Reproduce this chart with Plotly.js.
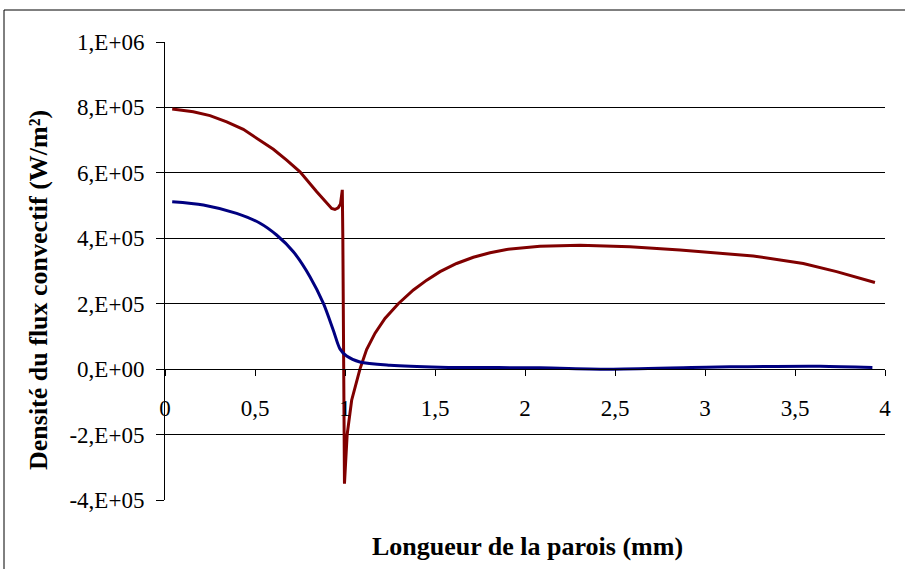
<!DOCTYPE html>
<html>
<head>
<meta charset="utf-8">
<script src="https://cdn.plot.ly/plotly-3.0.1.min.js"></script>
<style>html,body{margin:0;padding:0;background:#fff}#chart{width:905px;height:569px}</style>
</head>
<body>
<div id="chart"></div>
<script>
// Red series (upper curve)
const redX = [0.04, 0.102, 0.157, 0.25, 0.343, 0.435, 0.528, 0.602, 0.676, 0.75, 0.843, 0.898, 0.926, 0.944, 0.962, 0.975, 0.985, 0.988, 0.990, 0.992, 0.994, 0.997, 1.003, 1.012, 1.037, 1.06, 1.083, 1.12, 1.167, 1.222, 1.296, 1.38, 1.454, 1.528, 1.62, 1.713, 1.806, 1.898, 1.991, 2.083, 2.306, 2.583, 2.861, 3.083, 3.268, 3.546, 3.731, 3.944];
const redY = [7.95e5, 7.92e5, 7.87e5, 7.75e5, 7.56e5, 7.33e5, 7.0e5, 6.72e5, 6.39e5, 6.03e5, 5.42e5, 5.07e5, 4.91e5, 4.88e5, 4.93e5, 5.05e5, 5.48e5, 4.0e5, 1.0e5, -2.0e5, -3.3e5, -3.5e5, -2.9e5, -2.0e5, -0.95e5, -0.45e5, 0, 0.6e5, 1.1e5, 1.55e5, 2.0e5, 2.42e5, 2.72e5, 2.98e5, 3.23e5, 3.42e5, 3.56e5, 3.66e5, 3.72e5, 3.76e5, 3.79e5, 3.74e5, 3.64e5, 3.54e5, 3.46e5, 3.23e5, 2.98e5, 2.65e5];
// Blue series (lower curve)
const blueX = [0.04, 0.213, 0.398, 0.528, 0.62, 0.713, 0.806, 0.88, 0.935, 0.972, 1.009, 1.083, 1.25, 1.528, 2.083, 2.49, 3.14, 3.64, 3.93];
const blueY = [5.12e5, 5.02e5, 4.76e5, 4.46e5, 4.10e5, 3.59e5, 2.82e5, 2.01e5, 1.19e5, 0.62e5, 0.40e5, 0.22e5, 1.2e4, 0.6e4, 0.4e4, 0, 0.7e4, 0.9e4, 0.5e4];
// Tick labels
const xTickVals = [0, 0.5, 1, 1.5, 2, 2.5, 3, 3.5, 4];
const xTickText = ["0", "0,5", "1", "1,5", "2", "2,5", "3", "3,5", "4"];
const yTickVals = [-4e5, -2e5, 0, 2e5, 4e5, 6e5, 8e5, 1e6];
const yTickText = ["-4,E+05", "-2,E+05", "0,E+00", "2,E+05", "4,E+05", "6,E+05", "8,E+05", "1,E+06"];
const xTitle = "Longueur de la parois (mm)";
const yTitle = "Densité du flux convectif (W/m²)";

const font = "Liberation Serif";
const traces = [
  {x: redX, y: redY, type: "scatter", mode: "lines", line: {color: "#800000", width: 3, shape: "linear"}, showlegend: false, hoverinfo: "skip"},
  {x: blueX, y: blueY, type: "scatter", mode: "lines", line: {color: "#000080", width: 3, shape: "spline", smoothing: 0.8}, showlegend: false, hoverinfo: "skip"}
];
const zeroPos = (0 - (-4e5)) / (1e6 - (-4e5));
const layout = {
  width: 905, height: 569,
  margin: {l: 165, r: 20, t: 42, b: 69},
  paper_bgcolor: "#fff", plot_bgcolor: "#fff",
  font: {family: font, size: 23, color: "#000"},
  xaxis: {
    range: [0, 4], tickvals: xTickVals, ticktext: xTickText,
    anchor: "free", position: zeroPos,
    showline: true, linecolor: "#000", linewidth: 1,
    ticks: "outside", ticklen: 6, tickcolor: "#000",
    showgrid: false, zeroline: false,
    ticklabelstandoff: 12,
    tickfont: {family: font, size: 23, color: "#000"}
  },
  yaxis: {
    range: [-4e5, 1e6], tickvals: yTickVals, ticktext: yTickText,
    showline: true, linecolor: "#000", linewidth: 1,
    ticks: "outside", ticklen: 8, tickcolor: "#000",
    showgrid: true, gridcolor: "#000", gridwidth: 1, zeroline: false,
    ticklabelstandoff: 7,
    tickfont: {family: font, size: 23, color: "#000"}
  },
  annotations: [
    {text: "<b>" + xTitle + "</b>", xref: "paper", yref: "paper", x: (527 - 165) / 720, y: (500 - 546) / 458, xanchor: "center", yanchor: "middle", showarrow: false, font: {family: font, size: 26, color: "#000"}},
    {text: "<b>" + yTitle + "</b>", xref: "paper", yref: "paper", x: (38 - 165) / 720, y: (500 - 290) / 458, xanchor: "center", yanchor: "middle", textangle: -90, showarrow: false, font: {family: font, size: 26, color: "#000"}}
  ],
  shapes: [
    {type: "line", xref: "paper", yref: "paper", x0: (4 - 165) / 720, x1: (4 - 165) / 720, y0: (500 - 10) / 458, y1: (500 - 575) / 458, line: {color: "#000", width: 1}},
    {type: "line", xref: "paper", yref: "paper", x0: (4 - 165) / 720, x1: (910 - 165) / 720, y0: (500 - 10) / 458, y1: (500 - 10) / 458, line: {color: "#000", width: 1}}
  ]
};
Plotly.newPlot("chart", traces, layout, {displayModeBar: false, staticPlot: true});
</script>
</body>
</html>
